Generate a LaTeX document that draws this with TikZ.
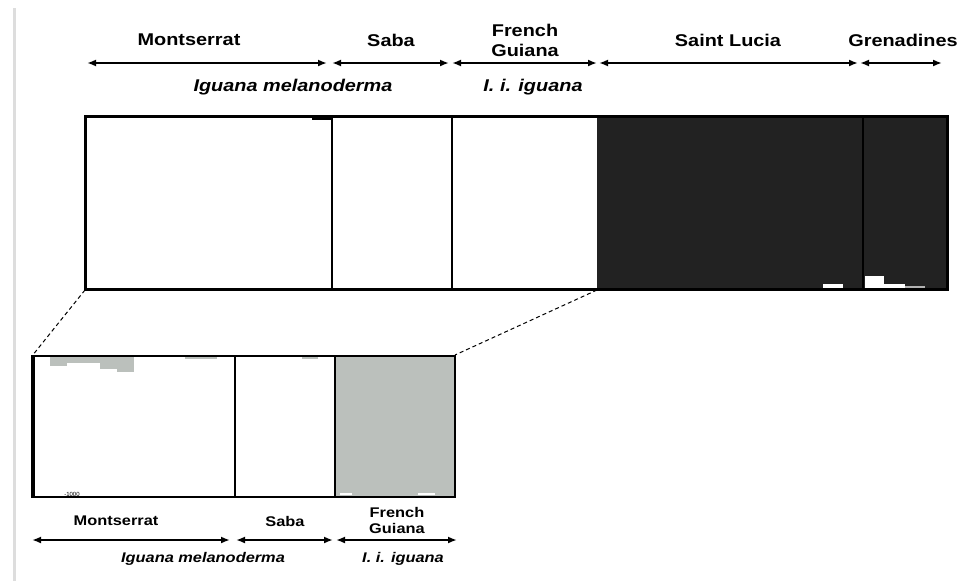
\documentclass[tikz,border=0pt]{standalone}
\usepackage{fontspec}
\setmainfont{Liberation Sans}
\newfontfamily\labfont[FakeStretch=1.17]{Liberation Sans}
\usetikzlibrary{arrows.meta}
\definecolor{ink}{HTML}{222222}
\definecolor{grayfill}{HTML}{BBC0BC}
\definecolor{edgegray}{HTML}{DDDDDD}
\begin{document}
\begin{tikzpicture}[x=1pt,y=-1pt,
  lab/.style={font=\labfont\bfseries\fontsize{17}{19}\selectfont, inner sep=0pt, align=center},
  ital/.style={font=\labfont\bfseries\itshape\fontsize{17}{19}\selectfont, inner sep=0pt},
  slab/.style={font=\labfont\bfseries\fontsize{14}{16}\selectfont, inner sep=0pt, align=center},
  sital/.style={font=\labfont\bfseries\itshape\fontsize{14}{16}\selectfont, inner sep=0pt},
  span/.style={line width=1.8pt, {Latex[length=9pt,width=7pt]}-{Latex[length=9pt,width=7pt]}},
  frame/.style={line width=3pt, draw=black},
  divider/.style={line width=2pt, draw=black},
  zoomline/.style={line width=1pt, dashed, dash pattern=on 4pt off 3pt}
]
\useasboundingbox (0,0) rectangle (965,581);
\fill[white] (0,0) rectangle (965,581);
% shadow edge on the left
\draw[edgegray, line width=3pt] (14,8) -- (14,581);

% ---------- top panel ----------
\coordinate (T0) at (85,116);
\coordinate (T1) at (947,289);
\fill[ink] (597,116) rectangle (947,289);
% white bits in the dark part
\fill[white] (823,284) rectangle (843,288);
\fill[white] (865,276) rectangle (884,288);
\fill[white] (884,284) rectangle (905,288);
\fill[gray!60] (905,286) rectangle (925,288);
\draw[black, line width=1.5pt] (863,116) -- (863,289);
\fill[black] (312,116) rectangle (332,120);
\draw[divider] (332,116) -- (332,289);
\draw[divider] (452,116) -- (452,289);
\draw[frame] (T0) rectangle (T1);

% top labels
\node[lab] (tmon) at (189,40) {Montserrat};
\node[lab] (tsab) at (391,40) {Saba};
\node[lab] (tfg) at (525,40) {French\\[1pt]Guiana};
\node[lab] (tsl) at (728,40) {Saint Lucia};
\node[lab] (tgr) at (903,40) {Grenadines};
\coordinate (a0) at (87,63);
\coordinate (a1) at (327,63);
\coordinate (a2) at (332,63);
\coordinate (a3) at (449,63);
\coordinate (a4) at (452,63);
\coordinate (a5) at (597,63);
\coordinate (a6) at (599,63);
\coordinate (a7) at (858,63);
\coordinate (a8) at (860,63);
\coordinate (a9) at (942,63);
\draw[span] (a0) -- (a1);
\draw[span] (a2) -- (a3);
\draw[span] (a4) -- (a5);
\draw[span] (a6) -- (a7);
\draw[span] (a8) -- (a9);
\node[ital] (tim) at (293,87) {Iguana melanoderma};
\node[ital] (tii) at (533,87) {I. i. iguana};

% ---------- bottom panel ----------
\coordinate (B0) at (32,356);
\coordinate (B1) at (455,497);
\fill[grayfill] (335,356) rectangle (455,497);
\fill[white] (340,493) rectangle (352,495);
\fill[white] (418,493) rectangle (435,495);
\fill[grayfill] (50,357) rectangle (67,366);
\fill[grayfill] (67,357) rectangle (100,363);
\fill[grayfill] (100,357) rectangle (117,369);
\fill[grayfill] (117,357) rectangle (134,372);
\fill[grayfill] (185,357) rectangle (217,359);
\fill[grayfill] (302,357) rectangle (318,359);
\draw[divider] (235,356) -- (235,497);
\draw[divider] (335,356) -- (335,497);
\draw[frame, line width=2.5pt] (B0) rectangle (B1);
\draw[black, line width=4pt] (33,355) -- (33,498);
\node[font=\fontsize{6}{6}\selectfont, inner sep=0pt] (tick) at (72,494) {-1000};

% zoom lines
\draw[zoomline] (85,290) -- (B0);
\draw[zoomline] (597,290) -- (455,355);

% bottom labels
\node[slab] (bmon) at (116,521) {Montserrat};
\node[slab] (bsab) at (285,521) {Saba};
\node[slab] (bfg) at (397,520) {French\\[0pt]Guiana};
\coordinate (b0) at (32,540);
\coordinate (b1) at (230,540);
\coordinate (b2) at (236,540);
\coordinate (b3) at (333,540);
\coordinate (b4) at (336,540);
\coordinate (b5) at (457,540);
\draw[span] (b0) -- (b1);
\draw[span] (b2) -- (b3);
\draw[span] (b4) -- (b5);
\node[sital] (bim) at (203,559) {Iguana melanoderma};
\node[sital] (bii) at (403,559) {I. i. iguana};
\end{tikzpicture}
\end{document}
